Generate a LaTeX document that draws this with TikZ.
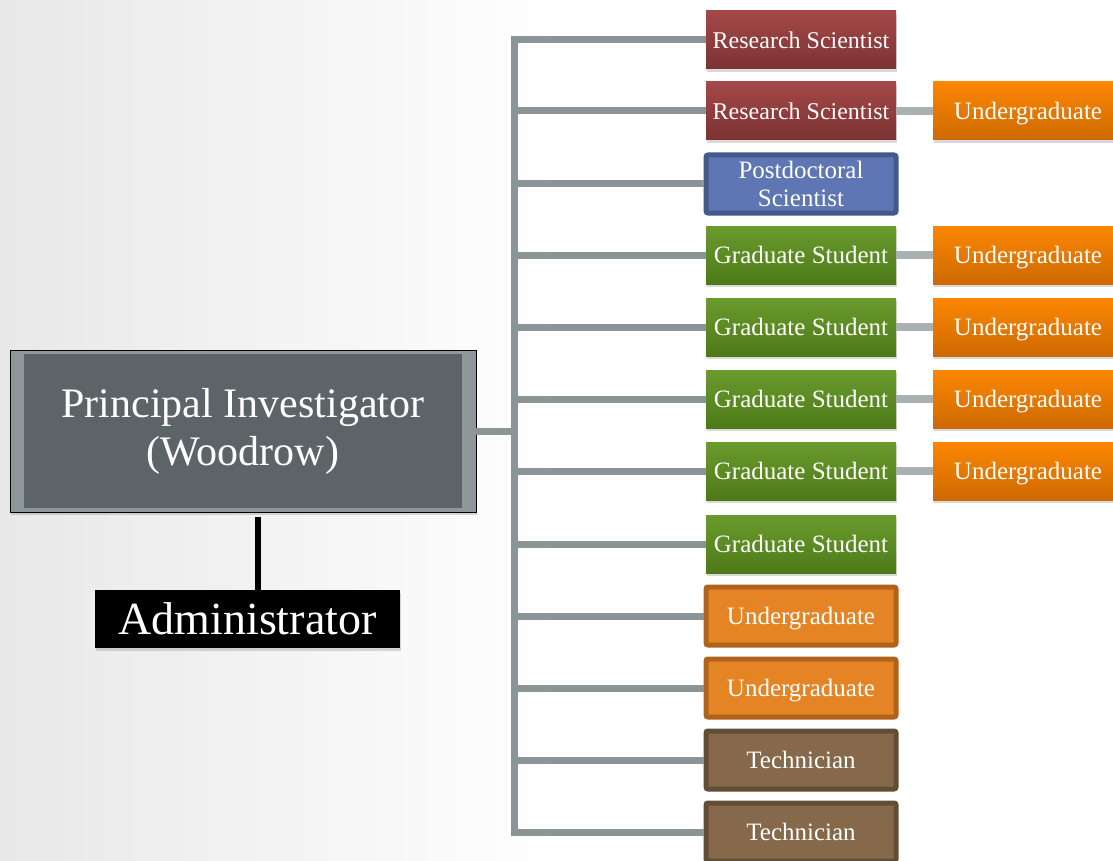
\documentclass[tikz,border=0pt]{standalone}
\usepackage{fontspec}
\setmainfont{Liberation Serif}
\usepackage{tikz}
\usetikzlibrary{shadows}

\definecolor{bgGray}{HTML}{E8E8E8}
\definecolor{lineGray}{HTML}{8B9496}
\definecolor{subGray}{HTML}{A9B1B3}
\definecolor{piFill}{HTML}{5C6468}
\definecolor{piBevel}{HTML}{8E989B}
\definecolor{rsTop}{HTML}{A54848}
\definecolor{rsBot}{HTML}{7C3232}
\definecolor{gsTop}{HTML}{6A9B2D}
\definecolor{gsBot}{HTML}{4D7A18}
\definecolor{ugTop}{HTML}{FD8603}
\definecolor{ugBot}{HTML}{CD6A02}
\definecolor{pdFill}{HTML}{5F76B4}
\definecolor{pdDraw}{HTML}{45588A}
\definecolor{unFill}{HTML}{E58424}
\definecolor{unDraw}{HTML}{B0631B}
\definecolor{teFill}{HTML}{85694A}
\definecolor{teDraw}{HTML}{624D35}

\begin{document}
\begin{tikzpicture}
  [
    x=1pt, y=-1pt,
    Shadow/.style={drop shadow={shadow xshift=1pt, shadow yshift=-3pt, opacity=0.3}},
    Box/.style={inner sep=0pt, minimum width=190pt, minimum height=58pt, text=white, align=center, font=\fontsize{25}{28}\selectfont},
    Line1/.style={text height=17pt, text depth=0pt},
    Research/.style={Box, Line1, Shadow, top color=rsTop, bottom color=rsBot, font=\fontsize{24}{28}\selectfont},
    Grad/.style={Box, Line1, Shadow, top color=gsTop, bottom color=gsBot},
    SubUnder/.style={Box, Line1, Shadow, top color=ugTop, bottom color=ugBot},
    Postdoc/.style={Box, fill=pdFill, draw=pdDraw, line width=5pt, rounded corners=2pt},
    Under/.style={Box, Line1, fill=unFill, draw=unDraw, line width=5pt, rounded corners=2pt},
    Tech/.style={Box, Line1, fill=teFill, draw=teDraw, line width=5pt, rounded corners=2pt},
    PI/.style={Shadow, inner sep=0pt, minimum width=466pt, minimum height=162pt, fill=piBevel, draw=black, thick, text=white, align=center, font=\fontsize{42}{48}\selectfont,
      path picture={\fill[piFill] ([shift={(14pt,-4pt)}]path picture bounding box.north west) rectangle ([shift={(-14pt,4pt)}]path picture bounding box.south east);}},
    Admin/.style={Shadow, inner sep=0pt, minimum width=305pt, minimum height=58pt, fill=black, text=white, font=\fontsize{46}{50}\selectfont},
    Trunk/.style={draw=lineGray, line width=7pt},
    SubLine/.style={draw=subGray, line width=8pt}
  ]
  % Background
  \useasboundingbox (0,0) rectangle (1113,861);
  \clip (0,0) rectangle (1113,861);
  \shade[left color=bgGray, right color=white] (0,0) rectangle (560,861);

  % Nodes
  \node[PI] (pi) at(243, 431) {Principal Investigator\\(Woodrow)};

  \node[Admin] (admin) at(247.5, 619) {Administrator};

  \node[Research] (r1) at(801, 40) {Research Scientist};
  \node[Research] (r2) at(801, 111) {Research Scientist};
  \node[Postdoc] (r3) at(801, 184) {Postdoctoral\\Scientist};
  \node[Grad] (r4) at(801, 255) {Graduate Student};
  \node[Grad] (r5) at(801, 327) {Graduate Student};
  \node[Grad] (r6) at(801, 399) {Graduate Student};
  \node[Grad] (r7) at(801, 471) {Graduate Student};
  \node[Grad] (r8) at(801, 544) {Graduate Student};
  \node[Under] (r9) at(801, 616) {Undergraduate};
  \node[Under] (r10) at(801, 688) {Undergraduate};
  \node[Tech] (r11) at(801, 760) {Technician};
  \node[Tech] (r12) at(801, 832) {Technician};

  \node[SubUnder] (u2) at(1028, 111) {Undergraduate};
  \node[SubUnder] (u4) at(1028, 255) {Undergraduate};
  \node[SubUnder] (u5) at(1028, 327) {Undergraduate};
  \node[SubUnder] (u6) at(1028, 399) {Undergraduate};
  \node[SubUnder] (u7) at(1028, 471) {Undergraduate};

  \coordinate (jn) at(514, 431);

  % Lines
  \path [Trunk] (r1.west) -| (jn) |- (r12.west);
  \path [Trunk] (pi.east) -- (jn);
  \foreach \n in {2,...,11}
    \path [Trunk] (r\n.west) -- (r\n.west -| jn);

  \foreach \n in {2,4,5,6,7}
    \path [SubLine] (r\n.east) -- (u\n.west);

  \path [draw, line width=6pt] ([xshift=15pt, yshift=-5pt]pi.south) -- ([xshift=10.5pt]admin.north);

\end{tikzpicture}
\end{document}
